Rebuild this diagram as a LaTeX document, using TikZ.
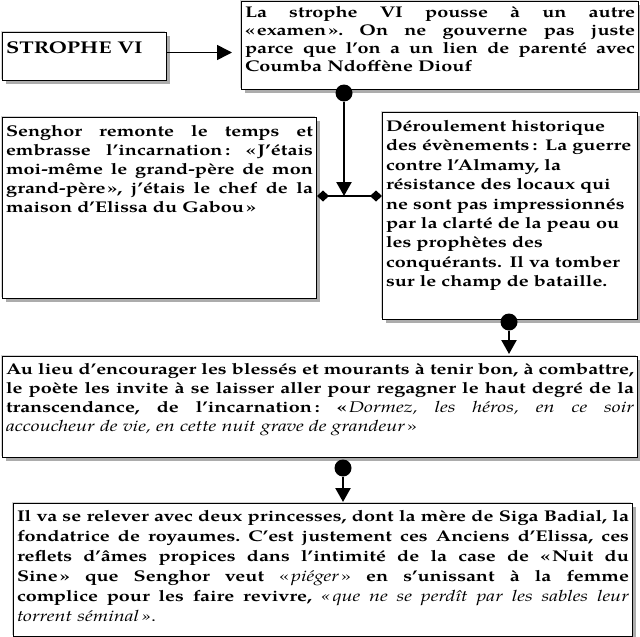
\documentclass[tikz,border=0pt]{standalone}
\usepackage{fontspec}
\setmainfont{TeX Gyre Pagella}[FakeStretch=1.28]
\usetikzlibrary{arrows.meta,shadows,calc}
\newcommand\tw{300pt}
\def\wsp{\hskip 5pt plus 1fil minus 1.5pt\relax}
\def\JLa#1 #2\JLend{#1\ifx\relax#2\relax\else\wsp\JLa#2\JLend\fi}
\newcommand\JL[1]{\hbox to \tw{\JLa#1 \JLend}\par}
\newcommand\NL[1]{\mbox{#1}\par}
\newcommand\og{«\kern2pt}
\newcommand\fg{\kern2pt»}
\newcommand\ftx[2]{\fontsize{15.5}{#1}\selectfont\bfseries\lineskiplimit=-100pt\relax\renewcommand\tw{#2}}
\newcommand\itx{\mdseries\itshape}
\newcommand\I[1]{{\itx #1}}
\newcommand\rg[1]{{\mdseries #1}}
\tikzset{
  box/.style={draw=black, line width=1pt, fill=white, anchor=north west,
    inner xsep=3.5pt, text height=12pt,
    general shadow={shadow xshift=-1.3pt, shadow yshift=1.3pt, fill=gray!35},
    drop shadow={shadow xshift=3pt, shadow yshift=-3pt, fill=gray!65, opacity=1}},
  arr/.style={line width=2.4pt, -{Triangle[length=14pt,width=15pt]}},
  dot/.style={circle, fill=black, inner sep=0pt, minimum size=17pt},
  bar/.style={line width=2.6pt, {Diamond[length=12pt,width=11pt]}-{Diamond[length=12pt,width=11pt]}}
}
\begin{document}
\begin{tikzpicture}[x=1pt,y=-1pt]
\useasboundingbox (0,0) rectangle (640,637);

\node[box, text width=157pt, text depth=18pt, inner ysep=9pt,
  font={\fontsize{17}{19}\selectfont\bfseries}] (S) at (2,32) {\NL{STROPHE VI}};

\node[box, text width=390pt, text depth=68pt, inner ysep=4pt, font=\ftx{18}{390pt}] (T) at (241,1) {%
\JL{La strophe VI pousse à un autre}%
\JL{\og examen\fg. On ne gouverne pas juste}%
\JL{parce que l’on a un lien de parenté avec}%
\NL{Coumba Ndoffène Diouf}};

\node[box, text width=307pt, text depth=155pt, inner ysep=7pt, font=\ftx{19}{307pt}] (L) at (2,117) {%
\JL{Senghor remonte le temps et}%
\JL{embrasse l’incarnation\kern3pt: \og J’étais}%
\JL{moi-même le grand-père de mon}%
\JL{grand-père\fg, j’étais le chef de la}%
\NL{maison d’Elissa du Gabou\fg}};

\node[box, text width=248pt, text depth=181pt, inner ysep=7pt, font=\ftx{19.4}{248pt}] (R) at (382,112) {%
\NL{Déroulement historique}%
\NL{des évènements\kern3pt: La guerre}%
\NL{contre l’Almamy, la}%
\NL{résistance des locaux qui}%
\NL{ne sont pas impressionnés}%
\NL{par la clarté de la peau ou}%
\NL{les prophètes des}%
\NL{conquérants. Il va tomber}%
\NL{sur le champ de bataille.}};

\node[box, text width=628pt, text depth=77pt, inner ysep=6pt, font=\ftx{19}{628pt}] (M) at (2,356) {%
\JL{Au lieu d’encourager les blessés et mourants à tenir bon, à combattre,}%
\JL{le poète les invite à se laisser aller pour regagner le haut degré de la}%
\JL{transcendance, de l’incarnation\kern3pt: \og\itx Dormez, les héros, en ce soir}%
\NL{{\itx accoucheur de vie, en cette nuit grave de grandeur}\kern2pt{\mdseries »}}};

\node[box, text width=612pt, text depth=109pt, inner ysep=6pt, font=\ftx{20}{612pt}] (B) at (13,503) {%
\JL{Il va se relever avec deux princesses, dont la mère de Siga Badial, la}%
\JL{fondatrice de royaumes. C’est justement ces Anciens d’Elissa, ces}%
\JL{reflets d’âmes propices dans l’intimité de la case de \og Nuit du}%
\JL{Sine\fg{} que Senghor veut \rg{«}\kern2pt\I{piéger}\kern2pt\rg{»} en s’unissant à la femme}%
\JL{complice pour les faire revivre, \itx\og que ne se perdît par les sables leur}%
\NL{{\itx torrent séminal\kern2pt»}{\mdseries .}}};

% connectors
\draw[line width=1.6pt, -{Triangle[length=15pt,width=15pt]}, shorten >=9pt]
  ([yshift=4pt]S.east) -- ([yshift=4pt]S.east -| T.west);

\node[dot] (c1) at (344,93) {};
\coordinate (J) at (344,196);
\draw[arr] (c1) -- (J);
\draw[bar] (L.east |- J) -- (R.west |- J);

\node[dot] (c2) at (509,322) {};
\draw[arr, shorten >=2pt] (c2) -- (c2 |- M.north);

\node[dot] (c3) at (343,468) {};
\draw[arr, shorten >=1pt] (c3) -- (c3 |- B.north);
\end{tikzpicture}
\end{document}
